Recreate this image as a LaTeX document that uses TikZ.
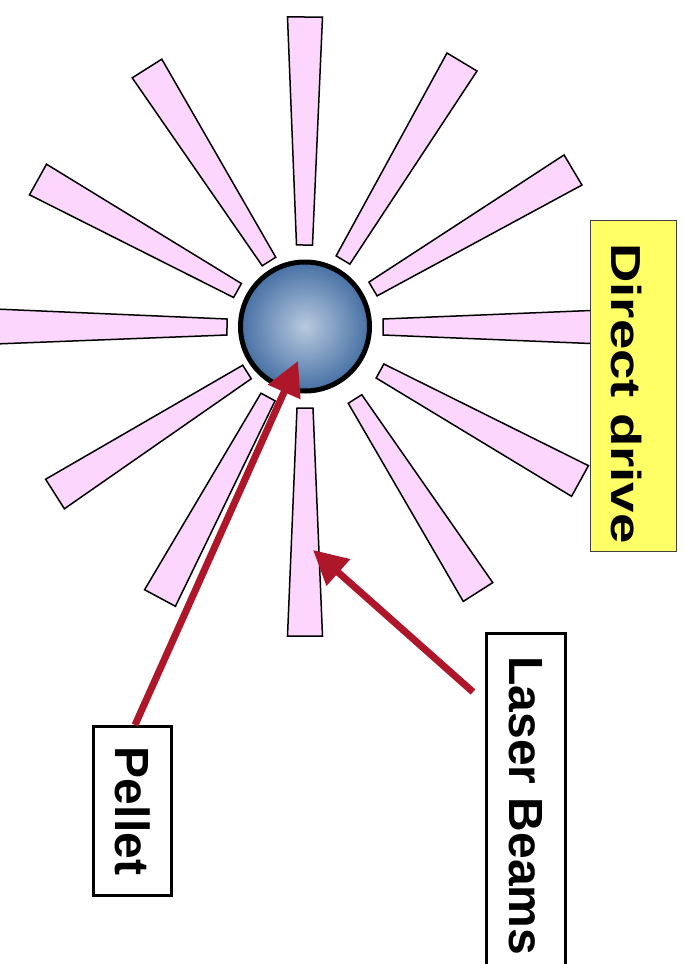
\documentclass[tikz,border=0pt]{standalone}
\usepackage{fontspec}
\setmainfont{Liberation Sans}
\usetikzlibrary{calc,arrows.meta}

\definecolor{beampink}{RGB}{252,214,253}
\definecolor{arrowred}{RGB}{174,22,42}
\definecolor{noteyellow}{RGB}{255,255,102}
\definecolor{pelletlight}{RGB}{184,201,223}
\definecolor{pelletdark}{RGB}{70,112,164}

\tikzset{
  beamray/.style={fill=beampink, draw=black, line width=1.5pt, line join=miter},
  pointer/.style={draw=arrowred, line width=7pt, -{Triangle[length=34pt,width=34pt]}},
  labelbox/.style={draw=black, line width=3pt, fill=white, rotate=-90, inner sep=0pt,
                   font=\bfseries\fontsize{48}{48}\selectfont},
  notebox/.style={draw=black!75, line width=1.5pt, fill=noteyellow, inner sep=0pt},
  notetext/.style={rotate=-90, inner sep=0pt, font=\bfseries\fontsize{42}{42}\selectfont},
}

\begin{document}
\begin{tikzpicture}[x=1pt,y=-1pt]
  \useasboundingbox (0,0) rectangle (683,964);
  \clip (0,0) rectangle (683,964);

  % twelve tapered beams: inner end / outer end centres
  \foreach \ix/\iy/\ox/\oy in {
      304.5/245/305/17,
      343/260/462/62,
      373/289/573/170,
      383/327/615/327,
      380/371/580/481,
      355/399/478/592,
      305/408/305/636,
      268/397/160/598,
      247/372/55/494,
      227/327/-5/326.5,
      237.5/290.5/38/179.5,
      269/261.5/147/68.5} {
    \coordinate (bin) at (\ix,\iy);
    \coordinate (bout) at (\ox,\oy);
    \draw[beamray] ($(bin)!8pt!90:(bout)$) -- ($(bin)!8pt!-90:(bout)$)
                -- ($(bout)!17.5pt!90:(bin)$) -- ($(bout)!17.5pt!-90:(bin)$) -- cycle;
  }

  % the target pellet
  \node[circle, draw=black, line width=5pt, minimum size=129pt, inner sep=0pt,
        shading=radial, inner color=pelletlight, outer color=pelletdark]
        (pellet) at (305,326.5) {};

  % title box
  \node[notebox, minimum width=86pt, minimum height=331pt] (ddbox) at (633.5,386) {};
  \node[notetext] (ddtext) at (627,393.5) {\scalebox{1.3}[1]{Direct drive}};

  % labels
  \node[labelbox, minimum width=346pt, minimum height=79pt] (laserlabel) at (526,806) {Laser Beams};
  \node[labelbox, minimum width=169pt, minimum height=78pt] (pelletlabel) at (132.5,811) {Pellet};

  % pointers
  \coordinate (pellettip) at (298,361);
  \coordinate (beamtip) at (313,550);
  \coordinate (laserstart) at (473,692);
  \draw[pointer] ([xshift=2.5pt]pelletlabel.west) -- (pellettip);
  \draw[pointer] (laserstart) -- (beamtip);
\end{tikzpicture}
\end{document}
